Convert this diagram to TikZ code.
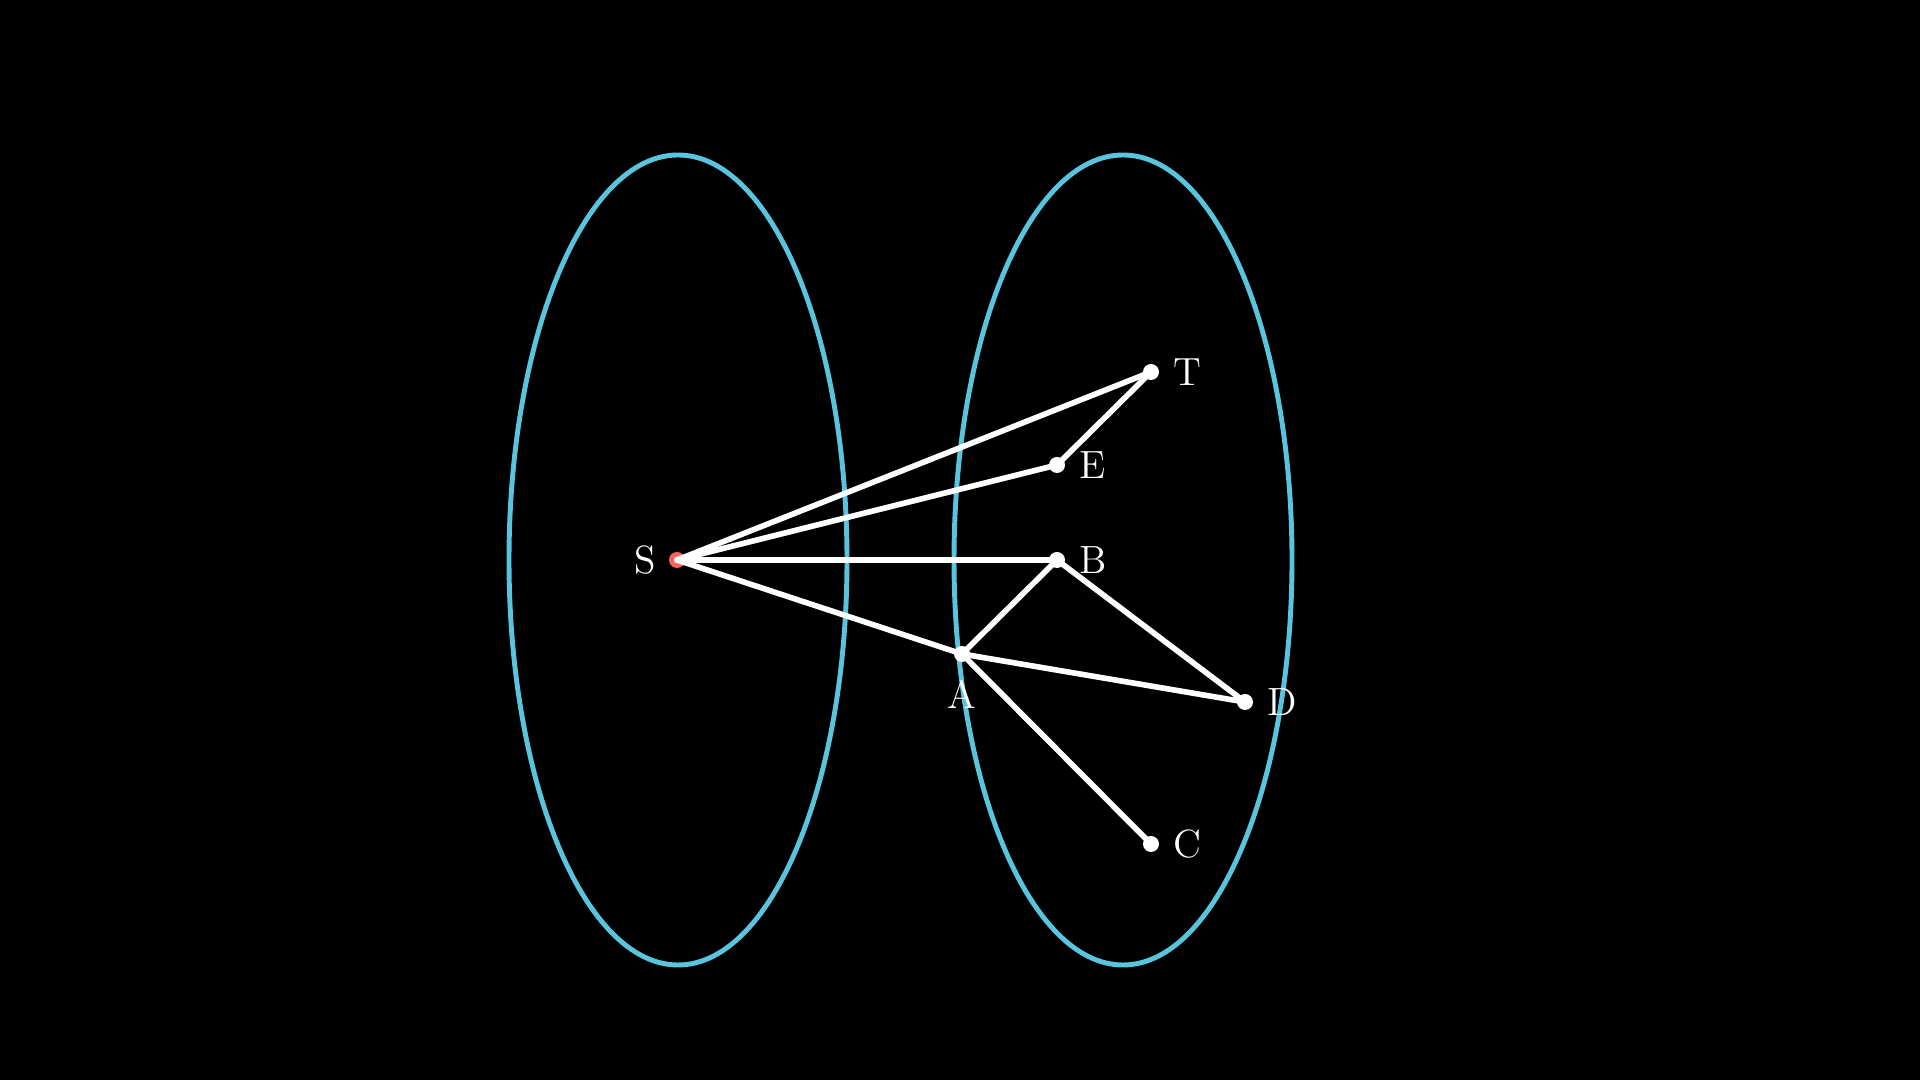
\documentclass[tikz,border=0pt]{standalone}
\usepackage{xcolor}
\definecolor{setblue}{HTML}{58C4DD}
\definecolor{srcred}{HTML}{FC6255}

\begin{document}
\begin{tikzpicture}[
    every node/.style={font=\fontsize{11.2}{13}\selectfont, text=white},
    vertex/.style={circle, fill=white, inner sep=0pt, minimum size=0.16cm},
    source/.style={vertex, fill=srcred},
    part/.style={setblue, line width=1.4pt},
    edge/.style={white, line width=1.6pt, line cap=round},
    label distance=0.5pt
  ]
  \fill[black] (0,0) rectangle (19.2,10.8);
  \useasboundingbox (0,0) rectangle (19.2,10.8);

  % the two parts
  \draw[part] (6.78,5.20) ellipse (1.69 and 4.05);
  \draw[part] (11.23,5.20) ellipse (1.69 and 4.05);

  % vertices
  \node[source, label={[label distance=0pt]left:S}] (S) at (6.77,5.20) {};
  \node[vertex, label=right:T] (T) at (11.51,7.08) {};
  \node[vertex, label=right:E] (E) at (10.57,6.15) {};
  \node[vertex, label=right:B] (B) at (10.57,5.20) {};
  \node[vertex, label={[label distance=1.5pt]below:A}] (A) at (9.62,4.26) {};
  \node[vertex, label=right:D] (D) at (12.45,3.78) {};
  \node[vertex, label=right:C] (C) at (11.51,2.36) {};

  % edges
  \draw[edge] (S.center) -- (T.center);
  \draw[edge] (S.center) -- (E.center);
  \draw[edge] (S.center) -- (B.center);
  \draw[edge] (S.center) -- (A.center);
  \draw[edge] (T.center) -- (E.center);
  \draw[edge] (B.center) -- (A.center);
  \draw[edge] (B.center) -- (D.center);
  \draw[edge] (A.center) -- (D.center);
  \draw[edge] (A.center) -- (C.center);
\end{tikzpicture}
\end{document}
